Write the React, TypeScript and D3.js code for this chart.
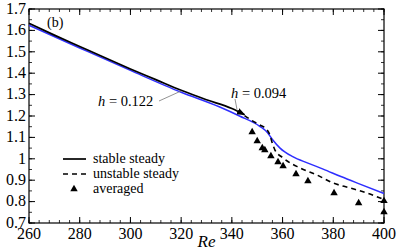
import React from "react";
import * as d3 from "d3";

// stable steady branch (black solid)
const stableRe = [260, 270, 280, 290, 300, 310, 320, 330, 340, 345];
const stableVal = [1.633, 1.578, 1.525, 1.472, 1.42, 1.37, 1.32, 1.276, 1.235, 1.206];

// unstable steady branch (black dashed)
const unstableRe = [345, 348.3, 351, 353.9, 355, 355.8, 357, 360.2, 366.9, 373.6, 379.9, 386.6, 393.3, 400];
const unstableVal = [1.202, 1.176, 1.158, 1.135, 1.111, 1.079, 1.041, 1.004, 0.957, 0.924, 0.887, 0.864, 0.84, 0.81];

// blue curve
const blueRe = [260, 280, 300, 320, 335, 343, 351, 354, 356, 359, 364, 370, 376, 383, 390, 400];
const blueVal = [1.624, 1.518, 1.413, 1.311, 1.243, 1.2, 1.152, 1.123, 1.09, 1.05, 1.01, 0.98, 0.952, 0.917, 0.884, 0.838];

// time-averaged values (triangles)
const avgRe = [348, 350, 352, 353, 355.4, 358.2, 360.2, 365.3, 370, 380.3, 390, 400, 400];
const avgVal = [1.125, 1.083, 1.05, 1.041, 1.013, 0.985, 0.966, 0.929, 0.896, 0.84, 0.793, 0.803, 0.751];

const xTicks = [260, 280, 300, 320, 340, 360, 380, 400];
const yTicks = [0.7, 0.8, 0.9, 1, 1.1, 1.2, 1.3, 1.4, 1.5, 1.6, 1.7];
const legendLabels = ["stable steady", "unstable steady", "averaged"];

const W = 399;
const H = 250;
const margin = { left: 29, right: 15, top: 9, bottom: 27 };
const serif = { fontFamily: "'Liberation Serif', 'DejaVu Serif', serif" };

const App: React.FC = () => {
  const x = d3.scaleLinear().domain([260, 400]).range([margin.left, W - margin.right]);
  const y = d3.scaleLinear().domain([0.7, 1.7]).range([H - margin.bottom, margin.top]);
  const [x0, x1] = x.range();
  const [y0, y1] = y.range();

  const line = d3
    .line<[number, number]>()
    .x((d) => x(d[0]))
    .y((d) => y(d[1]))
    .curve(d3.curveMonotoneX);

  const zip = (a: number[], b: number[]) => a.map((v, i) => [v, b[i]] as [number, number]);

  const xMinor = d3.range(260, 400.1, 4);
  const yMinor = d3.range(0.7, 1.701, 0.05);
  const tri = d3.symbol().type(d3.symbolTriangle).size(24)();

  return (
    <div style={{ position: "fixed", left: 0, top: 0 }}>
      <svg width={W} height={H} style={{ display: "block", background: "#fff" }}>
        <defs>
          <marker id="arr" viewBox="0 0 10 10" refX="9" refY="5" markerWidth="5" markerHeight="5" orient="auto">
            <path d="M0,1 L10,5 L0,9 z" fill="#000" />
          </marker>
        </defs>

        {/* minor ticks */}
        {xMinor.map((v) => (
          <g key={"xm" + v} stroke="#000" strokeWidth={0.8}>
            <line x1={x(v)} x2={x(v)} y1={y0} y2={y0 - 3} />
            <line x1={x(v)} x2={x(v)} y1={y1} y2={y1 + 3} />
          </g>
        ))}
        {yMinor.map((v) => (
          <g key={"ym" + v} stroke="#000" strokeWidth={0.8}>
            <line x1={x0} x2={x0 + 3} y1={y(v)} y2={y(v)} />
            <line x1={x1} x2={x1 - 3} y1={y(v)} y2={y(v)} />
          </g>
        ))}
        {/* major ticks and labels */}
        {xTicks.map((v) => (
          <g key={"x" + v}>
            <line x1={x(v)} x2={x(v)} y1={y0} y2={y0 - 6} stroke="#000" strokeWidth={1} />
            <line x1={x(v)} x2={x(v)} y1={y1} y2={y1 + 6} stroke="#000" strokeWidth={1} />
            <text x={x(v)} y={y0 + 16} textAnchor="middle" style={serif} fontSize={16}>
              {v}
            </text>
          </g>
        ))}
        {yTicks.map((v) => (
          <g key={"y" + v}>
            <line x1={x0} x2={x0 + 6} y1={y(v)} y2={y(v)} stroke="#000" strokeWidth={1} />
            <line x1={x1} x2={x1 - 6} y1={y(v)} y2={y(v)} stroke="#000" strokeWidth={1} />
            <text x={26} y={y(v)} dy="0.3em" textAnchor="end" style={serif} fontSize={16}>
              {d3.format("~g")(v)}
            </text>
          </g>
        ))}
        <rect x={x0} y={y1} width={x1 - x0} height={y0 - y1} fill="none" stroke="#000" strokeWidth={1.2} />

        <text x={(x0 + x1) / 2} y={H - 3} textAnchor="middle" style={serif} fontStyle="italic" fontSize={17}>
          Re
        </text>
        <text x={47} y={27} style={serif} fontSize={14}>
          (b)
        </text>

        {/* curves */}
        <path d={line(zip(blueRe, blueVal)) ?? ""} fill="none" stroke="#2e2eff" strokeWidth={1.5} />
        <path d={line(zip(stableRe, stableVal)) ?? ""} fill="none" stroke="#000" strokeWidth={1.7} markerEnd="url(#arr)" />
        <path d={line(zip(unstableRe, unstableVal)) ?? ""} fill="none" stroke="#000" strokeWidth={1.6} strokeDasharray="5,4" />
        {avgRe.map((r, i) => (
          <path key={"t" + i} d={tri ?? ""} transform={`translate(${x(r)},${y(avgVal[i])})`} fill="#000" />
        ))}

        {/* annotations */}
        <line x1={159} y1={101} x2={x(320)} y2={y(1.317)} stroke="#777" strokeWidth={0.8} />
        <text x={98} y={106} style={serif} fontSize={14.5}>
          <tspan fontStyle="italic">h</tspan> = 0.122
        </text>
        <line x1={235} y1={99} x2={237} y2={y(1.23)} stroke="#777" strokeWidth={0.8} />
        <text x={231} y={98} style={serif} fontSize={14.5}>
          <tspan fontStyle="italic">h</tspan> = 0.094
        </text>

        {/* legend */}
        {legendLabels.map((lab, i) => {
          const ly = 159 + i * 15;
          return (
            <g key={lab}>
              {i < 2 ? (
                <line x1={63} x2={86} y1={ly} y2={ly} stroke="#000" strokeWidth={1.7} strokeDasharray={i === 1 ? "5,4" : undefined} />
              ) : (
                <path d={tri ?? ""} transform={`translate(74,${ly})`} fill="#000" />
              )}
              <text x={93} y={ly} dy="0.32em" style={serif} fontSize={14}>
                {lab}
              </text>
            </g>
          );
        })}
      </svg>
    </div>
  );
};

export default App;
